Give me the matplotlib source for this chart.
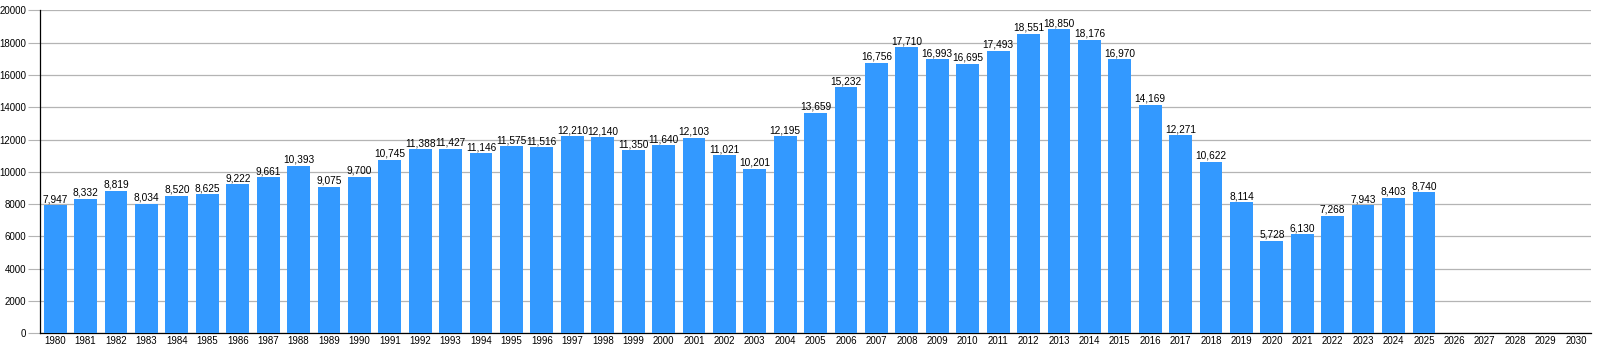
import matplotlib.pyplot as plt
import numpy as np

plt.rcParams['font.family'] = ['Liberation Sans', 'DejaVu Sans']

# years 1980 ~ 2030, values only up to 2025
years = [str(y) for y in range(1980, 2031)]
values = [7947, 8332, 8819, 8034, 8520, 8625, 9222, 9661, 10393, 9075,
          9700, 10745, 11388, 11427, 11146, 11575, 11516, 12210, 12140, 11350,
          11640, 12103, 11021, 10201, 12195, 13659, 15232, 16756, 17710, 16993,
          16695, 17493, 18551, 18850, 18176, 16970, 14169, 12271, 10622, 8114,
          5728, 6130, 7268, 7943, 8403, 8740]
y_ticks = list(range(0, 20001, 2000))

fig = plt.figure(figsize=(16, 3.5), dpi=100)
ax = fig.add_axes([0.025, 0.048, 0.9695, 0.922])

x = np.arange(len(years))
bars = ax.bar(x[:len(values)], values, width=0.75, color='#3399ff', zorder=3)

for xi, v in zip(x, values):
    ax.text(xi, v + 60, f'{v:,}', ha='center', va='bottom', fontsize=7.3, zorder=4)

ax.set_xlim(-0.5, len(years) - 0.5)
ax.set_ylim(0, 20000)
ax.set_xticks(x)
ax.set_xticklabels(years, fontsize=7)
ax.set_yticks(y_ticks)
ax.set_yticklabels([str(t) for t in y_ticks], fontsize=7)

ax.grid(axis='y', color='#b4b4b4', linewidth=0.9, zorder=0)
ax.tick_params(axis='x', length=0, pad=2)
ax.tick_params(axis='y', length=9, color='#b4b4b4', pad=1)
for s in ['top', 'right']:
    ax.spines[s].set_visible(False)
ax.spines['left'].set_color('black')
ax.spines['bottom'].set_color('black')
ax.spines['left'].set_linewidth(0.9)
ax.spines['bottom'].set_linewidth(0.9)

plt.savefig('out.png', dpi=100)
